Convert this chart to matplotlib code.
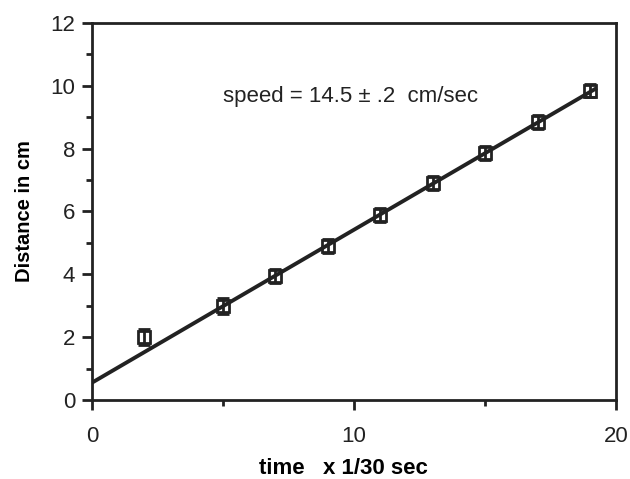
import numpy as np
import matplotlib
matplotlib.use("Agg")
import matplotlib.pyplot as plt
from matplotlib.ticker import MultipleLocator

plt.rcParams['font.family'] = ['Liberation Sans', 'DejaVu Sans']

# measured points
time_frames = [2, 5, 7, 9, 11, 13, 15, 17, 19]
distance_cm = [2.0, 3.0, 3.95, 4.9, 5.9, 6.9, 7.85, 8.85, 9.85]
distance_err = [0.25, 0.25, 0.22, 0.22, 0.22, 0.22, 0.22, 0.22, 0.2]

# fitted line as drawn in the figure
fit_intercept = 0.55
fit_slope = 0.487
fit_range = [0, 19.2]

fit_x = np.array(fit_range)
fit_y = fit_intercept + fit_slope * fit_x

fig = plt.figure(figsize=(6.3, 4.79), dpi=100)
ax = fig.add_axes([0.146, 0.165, 0.832, 0.787])

ax.plot(fit_x, fit_y, color='#222222', lw=2.8, zorder=2)
ax.errorbar(time_frames, distance_cm, yerr=distance_err, fmt='s', ms=8,
            mfc='none', mec='#222222', mew=2, ecolor='#222222',
            elinewidth=2, capsize=4, capthick=2, zorder=3)

ax.text(5.0, 9.65, "speed = 14.5 \u00b1 .2  cm/sec", fontsize=16,
        va='center', ha='left', color='#222222')

ax.set_xlim(0, 20)
ax.set_ylim(0, 12)
ax.xaxis.set_major_locator(MultipleLocator(10))
ax.xaxis.set_minor_locator(MultipleLocator(5))
ax.yaxis.set_major_locator(MultipleLocator(2))
ax.yaxis.set_minor_locator(MultipleLocator(1))
ax.tick_params(which='major', direction='out', length=7, width=2,
               labelsize=16, colors='#222222', pad=5)
ax.tick_params(which='minor', direction='out', length=4, width=2,
               colors='#222222')
ax.tick_params(axis='x', which='major', pad=12)
for s in ax.spines.values():
    s.set_linewidth(2)
    s.set_color('#222222')

ax.set_xlabel("time   x 1/30 sec", fontsize=16, fontweight='bold')
ax.xaxis.set_label_coords(0.479, -0.155)
ax.set_ylabel("Distance in cm", fontsize=14.5, fontweight='bold', labelpad=12)

fig.savefig("out.png", dpi=100)
